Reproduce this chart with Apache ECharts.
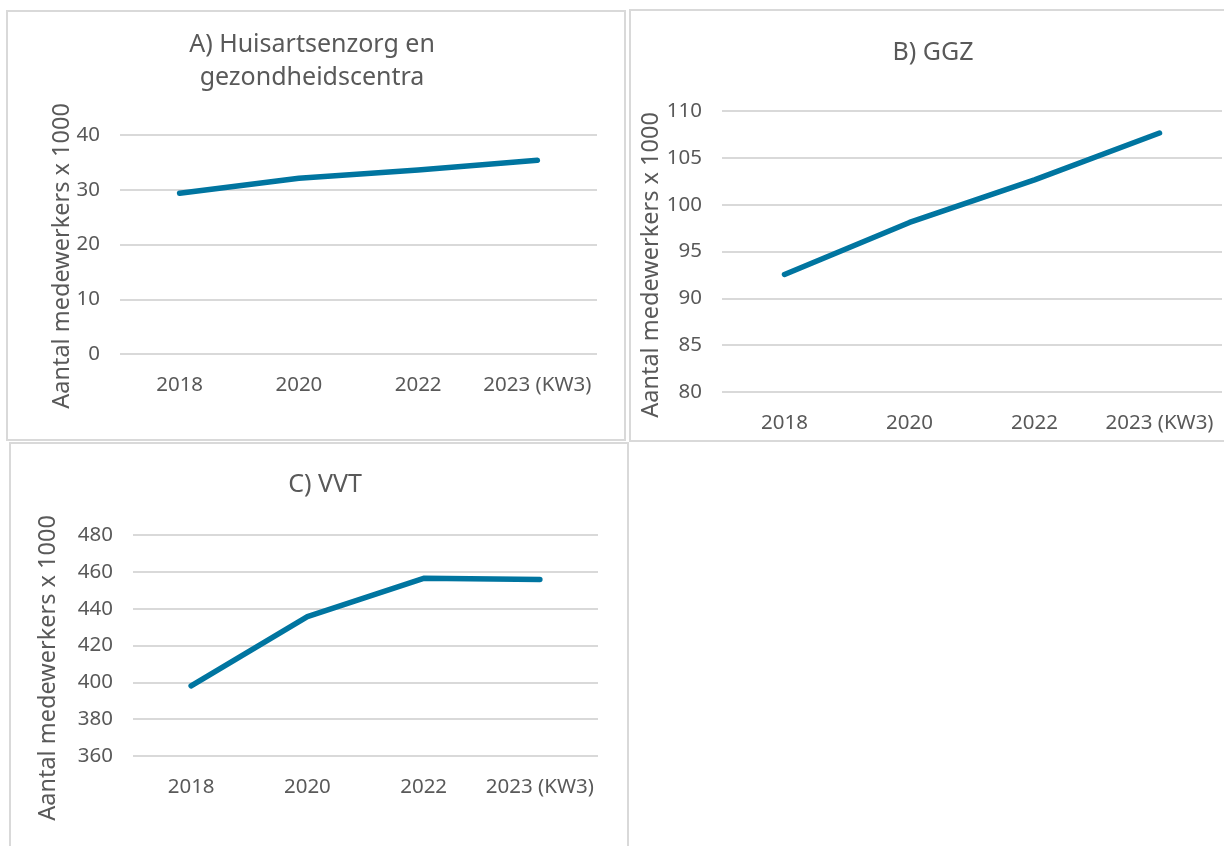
<!DOCTYPE html>
<html>
<head>
<meta charset="utf-8">
<script src="https://cdn.jsdelivr.net/npm/echarts@6/dist/echarts.min.js"></script>
<style>
  html, body { margin: 0; padding: 0; background: #fff; }
  #chart { width: 1224px; height: 846px; }
</style>
</head>
<body>
<div id="chart"></div>
<script>
// categorieen en waarden (x 1000 medewerkers)
var jaren = ["2018", "2020", "2022", "2023 (KW3)"];
var huisartsen = [29.35, 32.1, 33.6, 35.4];
var ggz = [92.55, 98.1, 102.65, 107.65];
var vvt = [398.1, 435.7, 456.5, 455.9];

var yTicksA = { min: 0, max: 40, interval: 10 };
var yTicksB = { min: 80, max: 110, interval: 5 };
var yTicksC = { min: 360, max: 480, interval: 20 };

var tekstKleur = "#595959";
var lijnKleur = "#0075a0";
var rasterKleur = "#d9d9d9";
var font = "Noto Sans";

var chart = echarts.init(document.getElementById("chart"));

function xAs(idx) {
  return {
    type: "category",
    gridIndex: idx,
    data: jaren,
    boundaryGap: true,
    axisLine: { show: false },
    axisTick: { show: false },
    axisLabel: { color: tekstKleur, fontSize: 20.5, fontFamily: font, margin: 21, interval: 0 }
  };
}

function yAs(idx, t) {
  return {
    type: "value",
    gridIndex: idx,
    min: t.min,
    max: t.max,
    interval: t.interval,
    axisLine: { show: false },
    axisTick: { show: false },
    axisLabel: { color: tekstKleur, fontSize: 20.5, fontFamily: font, margin: 20 },
    splitLine: { lineStyle: { color: rasterKleur, width: 2 } }
  };
}

function lijn(idx, data) {
  return {
    type: "line",
    xAxisIndex: idx,
    yAxisIndex: idx,
    data: data,
    symbol: "none",
    lineStyle: { color: lijnKleur, width: 5.5, cap: "round", join: "round" }
  };
}

function kader(x, y, w, h) {
  return {
    type: "rect",
    shape: { x: x, y: y, width: w, height: h },
    style: { fill: "none", stroke: "#d9d9d9", lineWidth: 2 },
    silent: true
  };
}

function asNaam(x, y) {
  return {
    type: "text",
    x: x,
    y: y,
    rotation: Math.PI / 2,
    style: {
      text: "Aantal medewerkers x 1000",
      fill: tekstKleur,
      font: "23.5px '" + font + "'",
      align: "center",
      verticalAlign: "middle"
    },
    silent: true
  };
}

var titelStijl = { color: tekstKleur, fontSize: 25, fontWeight: "normal", fontFamily: font, lineHeight: 33 };

chart.setOption({
  animation: false,
  title: [
    { text: "A) Huisartsenzorg en\ngezondheidscentra", left: 307, top: 23, textAlign: "center", textStyle: titelStijl },
    { text: "B) GGZ", left: 928, top: 31, textAlign: "center", textStyle: titelStijl },
    { text: "C) VVT", left: 320, top: 463, textAlign: "center", textStyle: titelStijl }
  ],
  grid: [
    { left: 120, top: 135, width: 477, height: 219 },
    { left: 722, top: 111, width: 500, height: 281 },
    { left: 133, top: 535, width: 465, height: 221 }
  ],
  xAxis: [xAs(0), xAs(1), xAs(2)],
  yAxis: [yAs(0, yTicksA), yAs(1, yTicksB), yAs(2, yTicksC)],
  series: [lijn(0, huisartsen), lijn(1, ggz), lijn(2, vvt)],
  graphic: [
    kader(7, 11, 618, 429),
    kader(630, 10, 600, 431),
    kader(10, 443, 618, 410),
    asNaam(62, 256),
    asNaam(651, 265),
    asNaam(48, 668)
  ]
});
</script>
</body>
</html>
